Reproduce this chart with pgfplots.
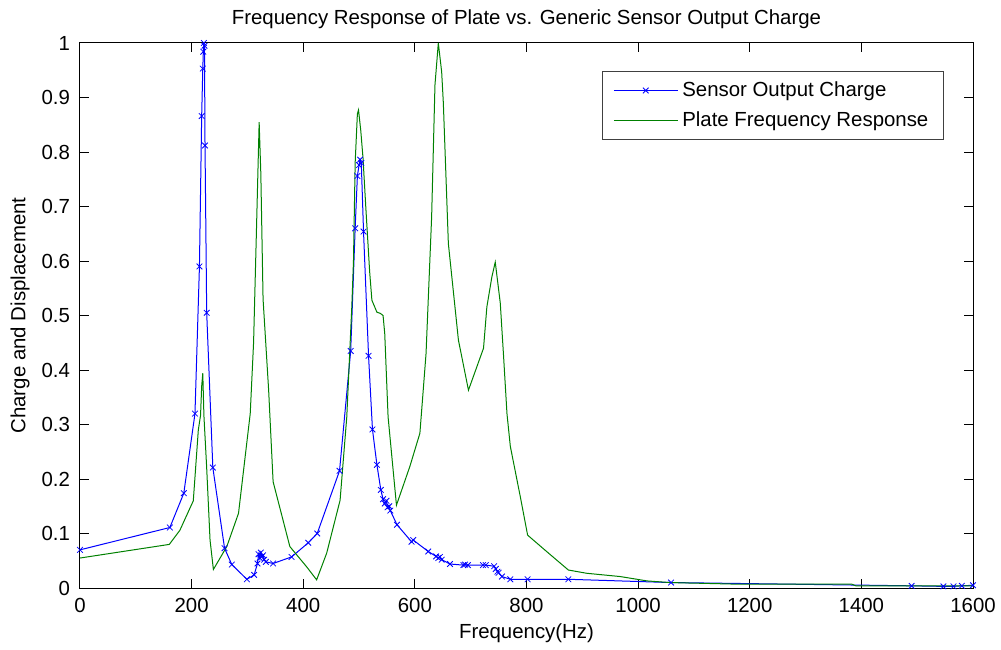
\documentclass[border=0pt]{standalone}
\usepackage{fontspec}
\setmainfont{Liberation Sans}
\usepackage{pgfplots}
\pgfplotsset{compat=1.18}

\definecolor{mblue}{RGB}{0,0,255}
\definecolor{mgreen}{RGB}{0,128,0}

\newcommand{\ff}{\fontsize{10.2}{12}\selectfont}

\begin{document}
\begin{tikzpicture}[font=\ff]
\begin{axis}[
    name=ax,
    scale only axis,
    width=446.5pt, height=272.5pt,
    xmin=0, xmax=1600,
    ymin=0, ymax=1,
    xtick={0,200,...,1600},
    ytick={0,0.1,...,1},
    tick align=inside,
    tick pos=both,
    major tick length=4.5pt,
    axis line style={line width=0.5pt},
    every tick/.style={black, line width=0.5pt},
    /pgf/number format/assume math mode=true,
    /pgf/number format/1000 sep={},
    tick label style={font=\ff},
    yticklabel style={xshift=-1.5pt},
    xticklabel style={yshift=-1.4pt},
    title={Frequency Response of Plate vs. Generic Sensor Output Charge},
    title style={at={([yshift=6pt]axis description cs:0.5,1)}, anchor=center, font=\ff},
    xlabel={Frequency(Hz)},
    xlabel style={at={([yshift=-22.5pt]axis description cs:0.5,0)}, anchor=center, font=\ff},
    ylabel={Charge and Displacement},
    ylabel style={at={([xshift=-30pt]axis description cs:0,0.5)}, anchor=center, font=\ff},
    legend style={at={(0.9675,0.9486)}, anchor=north east, font=\ff,
        draw=black!75, line width=0.6pt, inner xsep=5.5pt, inner ysep=3pt,
        row sep=2pt, cells={anchor=west}},
    legend cell align=left,
    legend image code/.code={
        \draw[#1, mark repeat=2, mark phase=2]
        plot coordinates {(0pt,0pt) (16pt,0pt) (32pt,0pt)};
    },
]

% sensor output charge
\addplot[mblue, line width=0.5pt, mark=x, mark size=2pt,
    mark options={line width=0.4pt}] coordinates {
(0,0.070) (161,0.111) (186,0.174) (206,0.320) (214,0.590) (218,0.866)
(220,0.953) (221,0.984) (222,1.000) (223,0.995) (224,0.812) (227,0.505)
(238,0.221) (259,0.073) (272,0.043) (299,0.016) (312,0.024) (318,0.045)
(320,0.062) (322,0.055) (324,0.065) (326,0.058) (328,0.060) (330,0.052)
(333,0.048) (346,0.045) (379,0.057) (409,0.083) (425,0.100) (465,0.215)
(485,0.435) (493,0.660) (497,0.756) (500,0.776) (502,0.786) (504,0.780)
(508,0.654) (517,0.426) (524,0.291) (532,0.226) (539,0.180) (543,0.163)
(546,0.155) (549,0.160) (551,0.148) (554,0.150) (556,0.142) (568,0.116)
(594,0.085) (597,0.088) (624,0.067) (638,0.058) (642,0.055) (645,0.057)
(648,0.052) (663,0.044) (687,0.042) (690,0.043) (695,0.042) (722,0.042)
(727,0.042) (742,0.040) (745,0.035) (748,0.030) (750,0.028) (756,0.021)
(771,0.016) (802,0.016) (875,0.016) (1059,0.010) (1490,0.004) (1547,0.003)
(1565,0.003) (1580,0.004) (1600,0.005)
};
\addlegendentry{Sensor Output Charge}

% plate frequency response
\addplot[mgreen, line width=0.5pt] coordinates {
(0,0.055) (160,0.080) (179,0.106) (203,0.160) (212,0.290) (216,0.317)
(218,0.370) (220,0.394) (222,0.317) (227,0.220) (233,0.088) (239,0.034)
(263,0.076) (284,0.137) (305,0.320) (311,0.450) (316,0.650) (321,0.855)
(324,0.760) (328,0.530) (338,0.363) (346,0.195) (376,0.076) (406,0.039)
(424,0.015) (442,0.064) (466,0.161) (478,0.314) (487,0.516) (490,0.600)
(493,0.780) (497,0.870) (499,0.877) (503,0.840) (507,0.790) (512,0.700)
(519,0.580) (523,0.528) (532,0.506) (538,0.504) (543,0.500) (546,0.467)
(552,0.314) (567,0.152) (591,0.223) (609,0.284) (620,0.430) (630,0.680)
(636,0.923) (642,1.000) (648,0.947) (651,0.890) (660,0.632) (678,0.455)
(696,0.363) (723,0.440) (729,0.516) (738,0.571) (744,0.598) (753,0.523)
(759,0.424) (765,0.320) (771,0.260) (789,0.167) (802,0.097) (836,0.067)
(875,0.033) (908,0.027) (968,0.021) (1016,0.013) (1057,0.010) (1180,0.007)
(1383,0.007) (1390,0.004) (1600,0.004)
};
\addlegendentry{Plate Frequency Response}

\end{axis}
\pgfresetboundingbox
\path[use as bounding box] ([xshift=-40pt,yshift=-30.5pt]ax.south west)
    rectangle ([xshift=14pt,yshift=21.5pt]ax.north east);
\end{tikzpicture}
\end{document}
